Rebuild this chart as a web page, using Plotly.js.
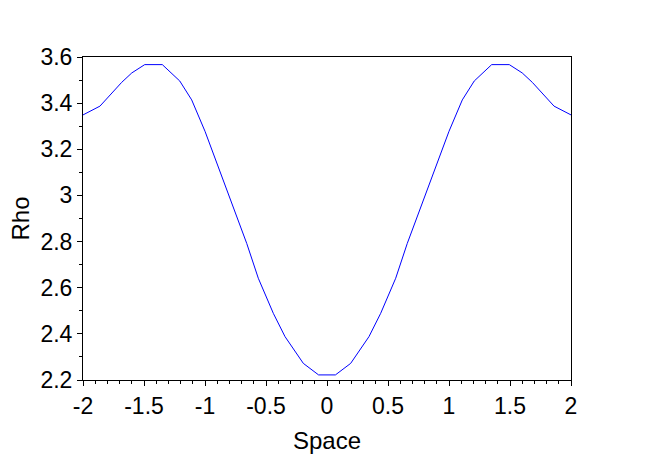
<!DOCTYPE html>
<html>
<head>
<meta charset="utf-8">
<script src="https://cdn.plot.ly/plotly-3.0.1.min.js"></script>
<style>html,body{margin:0;padding:0;background:#fff;}#chart{width:653px;height:460px;}</style>
</head>
<body>
<div id="chart"></div>
<script>
var space = [-2.0, -1.861, -1.683, -1.60, -1.494, -1.35, -1.207, -1.109, -1.0, -0.904, -0.822, -0.74, -0.658, -0.563, -0.44, -0.344, -0.276, -0.194, -0.069,
             0.069, 0.194, 0.276, 0.344, 0.44, 0.563, 0.658, 0.74, 0.822, 0.904, 1.0, 1.109, 1.207, 1.35, 1.494, 1.60, 1.683, 1.861, 2.0];
var rho = [3.349, 3.387, 3.490, 3.531, 3.567, 3.567, 3.496, 3.414, 3.278, 3.139, 3.023, 2.908, 2.792, 2.641, 2.489, 2.388, 2.337, 2.272, 2.222,
           2.222, 2.272, 2.337, 2.388, 2.489, 2.641, 2.792, 2.908, 3.023, 3.139, 3.278, 3.414, 3.496, 3.567, 3.567, 3.531, 3.490, 3.387, 3.349];
var xTickVals = [-2, -1.5, -1, -0.5, 0, 0.5, 1, 1.5, 2];
var xTickText = ["-2", "-1.5", "-1", "-0.5", "0", "0.5", "1", "1.5", "2"];
var yTickVals = [2.2, 2.4, 2.6, 2.8, 3, 3.2, 3.4, 3.6];
var yTickText = ["2.2", "2.4", "2.6", "2.8", "3", "3.2", "3.4", "3.6"];

var font = "Liberation Sans, Arial, sans-serif";
var trace = {
  x: space, y: rho, type: "scatter", mode: "lines",
  line: {color: "#0000ff", width: 1}, hoverinfo: "skip"
};
var layout = {
  width: 653, height: 460,
  margin: {l: 83, r: 82, t: 57, b: 80, pad: 0},
  paper_bgcolor: "#ffffff", plot_bgcolor: "#ffffff",
  showlegend: false,
  font: {family: font, size: 23, color: "#000"},
  xaxis: {
    range: [-2, 2], showgrid: false, zeroline: false,
    showline: true, linecolor: "#000", linewidth: 1, mirror: true,
    ticks: "outside", ticklen: 5, tickcolor: "#000", tickwidth: 1,
    tickmode: "array", tickvals: xTickVals, ticktext: xTickText,
    tickfont: {family: font, size: 23, color: "#000"},
    minor: {ticks: "outside", ticklen: 3, dtick: 0.1, tick0: 0, tickcolor: "#000", showgrid: false},
    title: {text: "Space", font: {family: font, size: 24, color: "#000"}, standoff: 14},
    automargin: false, fixedrange: true
  },
  yaxis: {
    range: [2.2, 3.6], showgrid: false, zeroline: false,
    showline: true, linecolor: "#000", linewidth: 1, mirror: true,
    ticks: "outside", ticklen: 5, tickcolor: "#000", tickwidth: 1,
    tickmode: "array", tickvals: yTickVals, ticktext: yTickText,
    tickfont: {family: font, size: 23, color: "#000"},
    minor: {ticks: "outside", ticklen: 3, dtick: 0.1, tick0: 0, tickcolor: "#000", showgrid: false},
    title: {text: "Rho", font: {family: font, size: 24, color: "#000"}, standoff: 4},
    automargin: false, fixedrange: true
  }
};
Plotly.newPlot("chart", [trace], layout, {displayModeBar: false, staticPlot: true});
</script>
</body>
</html>
